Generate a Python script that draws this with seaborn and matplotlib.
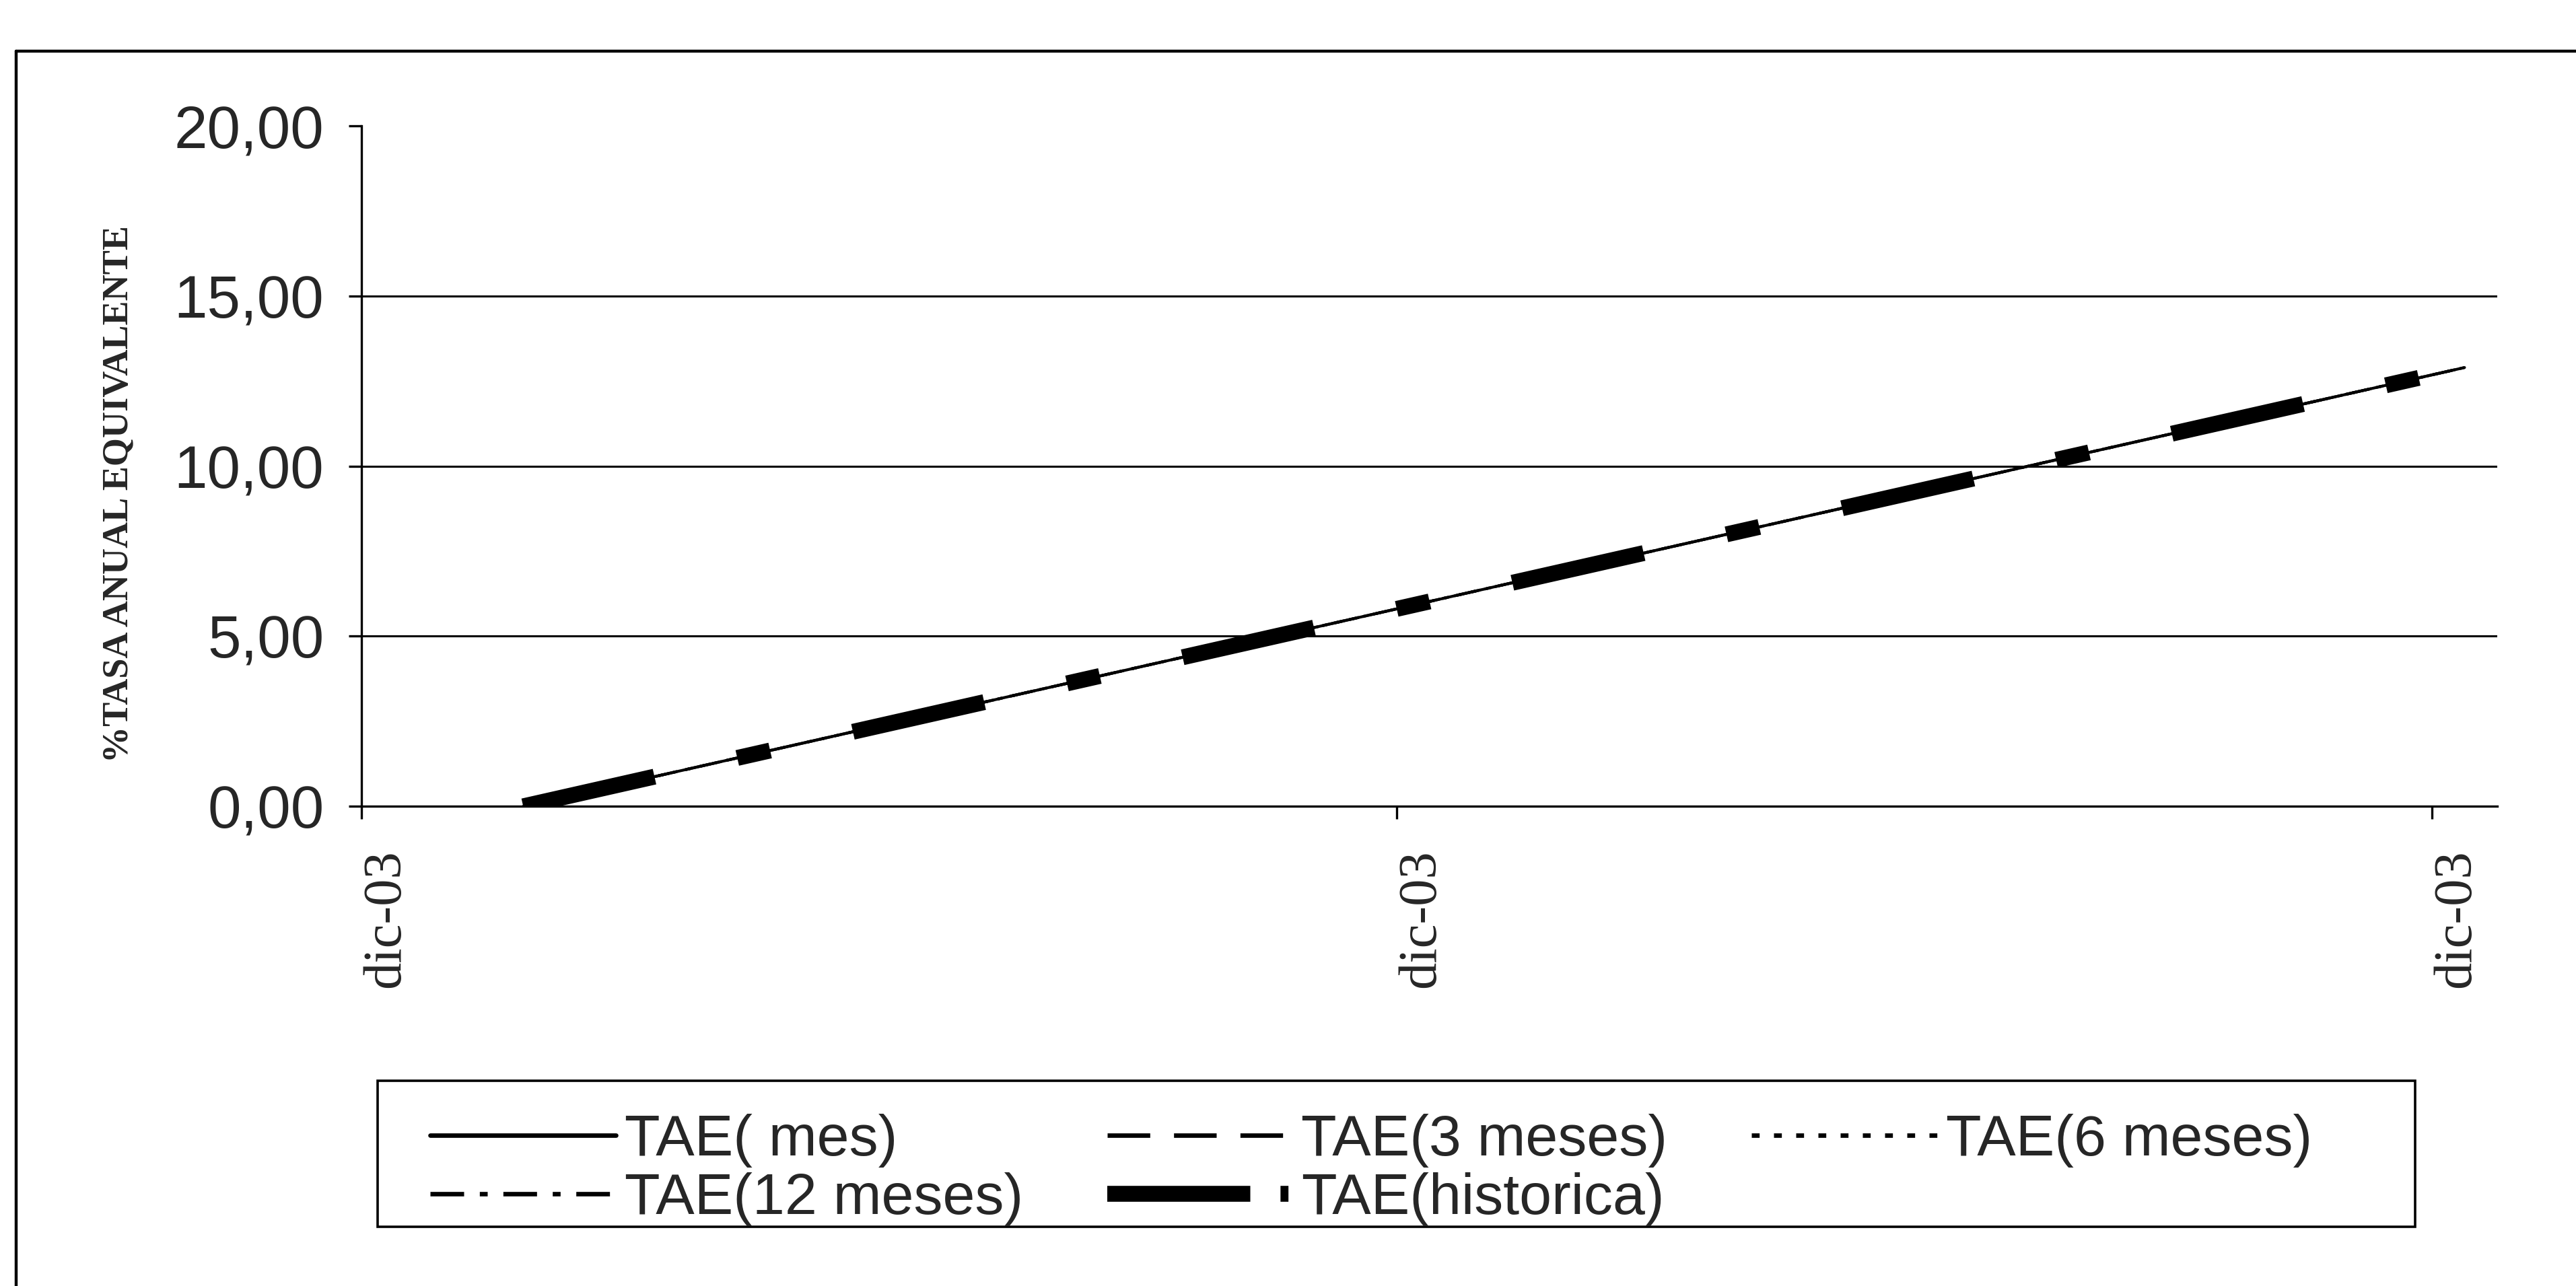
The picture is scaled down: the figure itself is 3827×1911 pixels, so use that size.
import pandas as pd
import matplotlib.pyplot as plt
import seaborn as sns
from matplotlib.lines import Line2D
from matplotlib.patches import Rectangle
from matplotlib.transforms import ScaledTranslation

# categories (one per period) - the series start at the third category
periodos = list(range(2, 33))

# values (all five series lie on top of each other)
tae_mes = [0.00, 0.43, 0.86, 1.29, 1.72, 2.15, 2.58, 3.01, 3.44, 3.87,
           4.30, 4.73, 5.16, 5.59, 6.02, 6.45, 6.88, 7.31, 7.74, 8.17,
           8.60, 9.03, 9.46, 9.89, 10.32, 10.75, 11.18, 11.61, 12.04, 12.47, 12.90]
tae_3m = list(tae_mes)
tae_6m = list(tae_mes)
tae_12m = list(tae_mes)
tae_hist = list(tae_mes)

x_tick_labels = ['dic-03', 'dic-03', 'dic-03']
y_ticks = [0, 5, 10, 15, 20]
y_tick_labels = ['0,00', '5,00', '10,00', '15,00', '20,00']

sns.set_theme(style='white')
plt.rcParams['font.family'] = ['Liberation Sans', 'DejaVu Sans']

fig = plt.figure(figsize=(3827 / 200, 1911 / 200), dpi=200)
ax = fig.add_axes([0.1403, 0.373, 0.829, 0.529])

series = [
    ('TAE( mes)', tae_mes, 1.5, '-'),
    ('TAE(3 meses)', tae_3m, 1.5, (0, (9.5, 5.3))),
    ('TAE(6 meses)', tae_6m, 1.5, (0, (1.75, 3.2))),
    ('TAE(12 meses)', tae_12m, 1.5, (0, (7.5, 3.5, 1.75, 3.5))),
    ('TAE(historica)', tae_hist, 8.5, (0, (8.47, 5.34, 2.12, 5.34))),
]
for name, vals, lw, ls in series:
    sns.lineplot(x=periodos, y=vals, ax=ax, color='black', linewidth=lw,
                 linestyle=ls, label=name, legend=False)

# grid lines at 5, 10, 15
for g in y_ticks[1:-1]:
    ax.axhline(g, color='black', lw=1.1, zorder=0)

ax.set_xlim(-0.5, 32.5)
ax.set_ylim(0, 20)
ax.set_xticks([-0.5, 15.5, 31.5])
ax.set_xticklabels(x_tick_labels, rotation=90, ha='left', va='top',
                   family='Liberation Serif', fontsize=29)
for lbl in ax.get_xticklabels():
    lbl.set_transform(lbl.get_transform() + ScaledTranslation(3 / 72, 0, fig.dpi_scale_trans))
ax.set_yticks(y_ticks)
ax.set_yticklabels(y_tick_labels, fontsize=32)
ax.tick_params(axis='both', direction='out', length=7, width=1.2,
               color='black', left=True, bottom=True)
ax.tick_params(axis='y', pad=13)
ax.tick_params(axis='x', pad=16)
ax.set_xlabel('')
ax.set_ylabel('')
for side in ['top', 'right']:
    ax.spines[side].set_visible(False)
for side in ['left', 'bottom']:
    ax.spines[side].set_color('black')
    ax.spines[side].set_linewidth(1.2)

fig.text(0.046, 0.616, '%TASA ANUAL EQUIVALENTE', rotation=90,
         ha='center', va='center', family='Liberation Serif',
         fontweight='bold', fontsize=19.5)

# legend in row order like the original
h, l = ax.get_legend_handles_labels()
order = [0, 3, 1, 4, 2]
leg = fig.legend([h[i] for i in order], [l[i] for i in order], ncol=3,
                 loc='upper left', bbox_to_anchor=(0.167, 0.134),
                 borderaxespad=0, fontsize=31, frameon=False,
                 handlelength=3.2, handletextpad=0.15, columnspacing=1.45,
                 labelspacing=0.08, borderpad=0)
for line in leg.get_lines():
    if line.get_label() == 'TAE(historica)':
        line.set_dashes((9.0, 1.9, 0.5, 5))
    else:
        line.set_linewidth(2.4)

# legend box and outer border of the chart area
fig.add_artist(Rectangle((0.1467, 0.046), 0.7908, 0.1137, transform=fig.transFigure,
                         fill=False, edgecolor='black', lw=1.3))
fig.add_artist(Line2D([0.0064, 0.0064], [0, 0.96], transform=fig.transFigure,
                      color='black', lw=1.6))
fig.add_artist(Line2D([0.0064, 1.0], [0.96, 0.96], transform=fig.transFigure,
                      color='black', lw=1.6))

fig.savefig('out.png', dpi=200, facecolor='white')
